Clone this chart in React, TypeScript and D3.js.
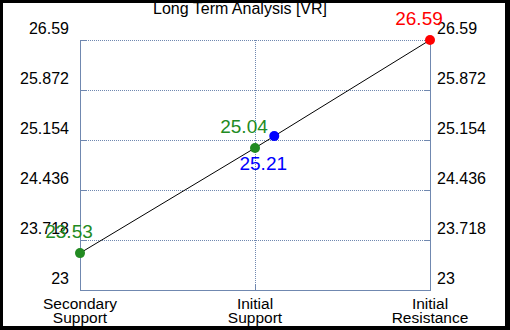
import React, { useEffect, useRef } from 'react';
import * as d3 from 'd3';

const categories = ['Secondary Support', 'Initial Support', 'Initial Resistance'];
const categoryLines = [['Secondary', 'Support'], ['Initial', 'Support'], ['Initial', 'Resistance']];
const yTicks = [23, 23.718, 24.436, 25.154, 25.872, 26.59];

// points: category index (fractional for the current price), value, colour, label side
const pointPos = [0, 1, 1.11, 2];
const pointValues = [23.53, 25.04, 25.21, 26.59];
const pointColors = ['#228b22', '#228b22', '#0000ff', '#ff0000'];
const labelBelow = [false, false, true, false];

const App = () => {
  const ref = useRef<SVGSVGElement>(null);

  useEffect(() => {
    const svg = d3.select(ref.current);
    svg.selectAll('*').remove();

    const W = 510, H = 330;
    const margin = { top: 40, right: 80, bottom: 40, left: 80 };
    const width = W - margin.left - margin.right;
    const height = H - margin.top - margin.bottom;
    const font = '"Liberation Sans", Arial, sans-serif';
    const axisColor = '#7088b0';

    // frame
    svg.append('rect').attr('width', W).attr('height', H).attr('fill', '#000');
    svg.append('rect').attr('x', 3).attr('y', 3).attr('width', 502).attr('height', 323).attr('fill', '#fff');

    const x = d3.scaleLinear().domain([0, categories.length - 1]).range([0, width]);
    const y = d3.scaleLinear().domain([23, 26.59]).range([height, 0]);

    const g = svg.append('g').attr('transform', `translate(${margin.left},${margin.top})`);

    // horizontal grid
    g.selectAll('.hgrid')
      .data(yTicks)
      .enter()
      .append('line')
      .attr('x1', 0)
      .attr('x2', width)
      .attr('y1', d => y(d))
      .attr('y2', d => y(d))
      .attr('stroke', axisColor)
      .attr('stroke-dasharray', '1,1')
      .attr('shape-rendering', 'crispEdges');

    // vertical grid at middle category
    g.append('line')
      .attr('x1', x(1))
      .attr('x2', x(1))
      .attr('y1', 0)
      .attr('y2', height)
      .attr('stroke', axisColor)
      .attr('stroke-dasharray', '1,1')
      .attr('shape-rendering', 'crispEdges');

    // axes
    const left = d3.axisLeft(y).tickValues(yTicks).tickSize(-6).tickFormat(() => '');
    const right = d3.axisRight(y).tickValues(yTicks).tickSize(-6).tickFormat(() => '');
    const bottom = d3.axisBottom(x).tickValues([0, 1, 2]).tickSize(-6).tickFormat(() => '');
    g.append('g').call(left);
    g.append('g').attr('transform', `translate(${width},0)`).call(right);
    g.append('g').attr('transform', `translate(0,${height})`).call(bottom);
    g.selectAll('.domain, .tick line').attr('stroke', axisColor).attr('shape-rendering', 'crispEdges');

    // y tick labels (both sides)
    g.selectAll('.ylabL')
      .data(yTicks)
      .enter()
      .append('text')
      .attr('x', -11)
      .attr('y', d => y(d) - 6)
      .attr('text-anchor', 'end')
      .attr('font-family', font)
      .attr('font-size', 16)
      .text(d => String(d));
    g.selectAll('.ylabR')
      .data(yTicks)
      .enter()
      .append('text')
      .attr('x', width + 7)
      .attr('y', d => y(d) - 6)
      .attr('text-anchor', 'start')
      .attr('font-family', font)
      .attr('font-size', 16)
      .text(d => String(d));

    // category labels
    categoryLines.forEach((lines, i) => {
      lines.forEach((t, j) => {
        g.append('text')
          .attr('x', x(i))
          .attr('y', height + 19 + j * 14)
          .attr('text-anchor', 'middle')
          .attr('font-family', font)
          .attr('font-size', 15.5)
          .text(t);
      });
    });

    // line through points
    const pts = pointPos.map((p, i) => [x(p), y(pointValues[i])] as [number, number]);
    g.append('path')
      .attr('d', d3.line()(pts))
      .attr('fill', 'none')
      .attr('stroke', '#000')
      .attr('stroke-width', 1);

    pts.forEach((p, i) => {
      g.append('circle')
        .attr('cx', p[0])
        .attr('cy', p[1])
        .attr('r', 5)
        .attr('fill', pointColors[i]);
      g.append('text')
        .attr('x', p[0] - 11)
        .attr('y', labelBelow[i] ? p[1] + 34 : p[1] - 15)
        .attr('text-anchor', 'middle')
        .attr('font-family', font)
        .attr('font-size', 19)
        .attr('fill', pointColors[i])
        .text(pointValues[i].toFixed(2));
    });

    // title
    svg.append('text')
      .attr('x', 240)
      .attr('y', 14)
      .attr('text-anchor', 'middle')
      .attr('font-family', font)
      .attr('font-size', 16)
      .text('Long Term Analysis [VR]');
  }, []);

  return (
    <div style={{ position: 'fixed', left: 0, top: 0 }}>
      <svg ref={ref} width={510} height={330} style={{ display: 'block' }}></svg>
    </div>
  );
};

export default App;
